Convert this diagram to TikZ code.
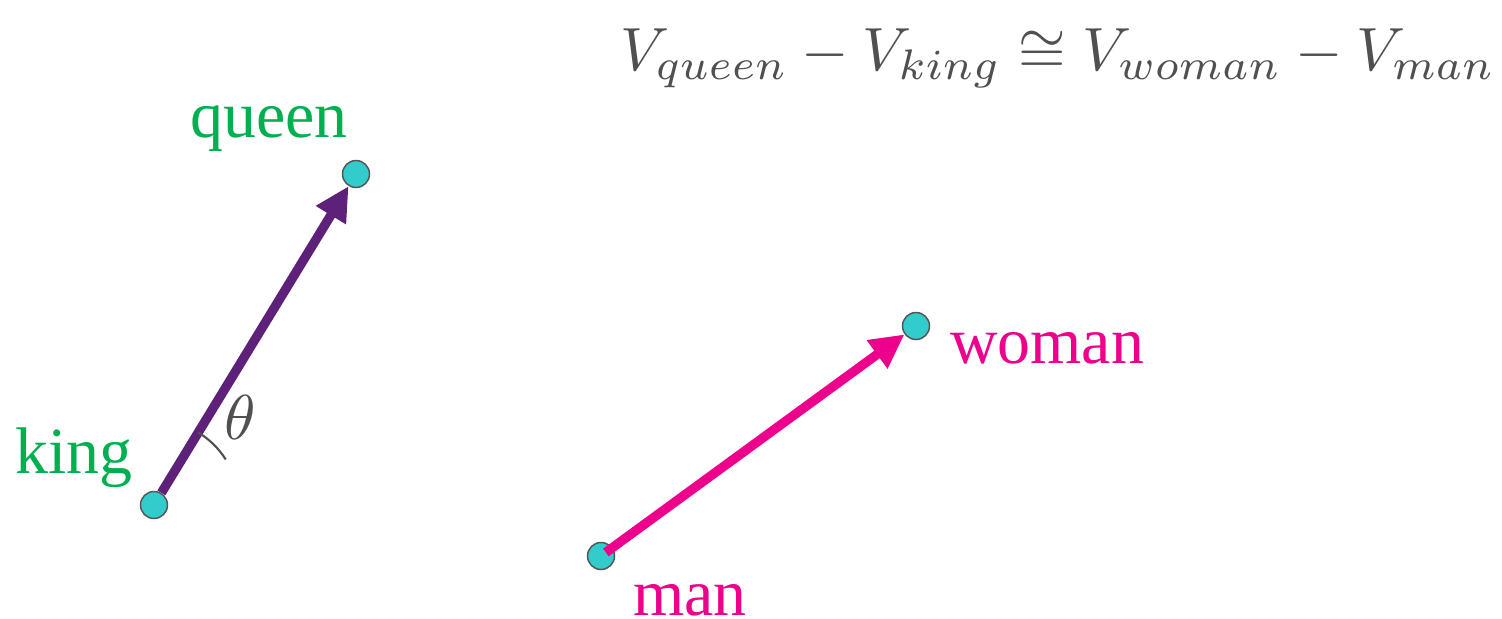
\documentclass[tikz,border=0pt]{standalone}
\usepackage{fontspec}
\setmainfont{Liberation Serif}
\usetikzlibrary{arrows.meta}
\definecolor{dotfill}{HTML}{33CCCC}
\definecolor{dotline}{HTML}{555555}
\definecolor{lblgreen}{HTML}{00B050}
\definecolor{lblpink}{HTML}{EC008C}
\definecolor{vecpurple}{HTML}{5E2179}
\definecolor{txtgray}{HTML}{505050}
\tikzset{
  pt/.style={circle, draw=dotline, fill=dotfill, line width=0.85pt, minimum size=0.54cm, inner sep=0pt},
  lbl/.style={font=\fontsize{37.5}{45}\selectfont, anchor=base, inner sep=0pt},
  vec/.style={line width=5.3pt, -{Triangle[length=0.68cm, width=0.66cm]}}
}
\begin{document}
\begin{tikzpicture}[x=0.02cm, y=-0.02cm]
\useasboundingbox (0,0) rectangle (1502,619);
% points
\node[pt] (king) at (154,505) {};
\node[pt] (queen) at (356,174) {};
\node[pt] (woman) at (916,326) {};
\node[pt] (man) at (601,556) {};
% vectors
\draw[vec, vecpurple] (king) -- (queen);
\draw[vec, lblpink, shorten <=0.12cm] (man.center) -- (woman);
% angle
\draw[txtgray, line width=1.2pt] ([shift={(58.6:1.7cm)}]king.center) arc[start angle=58.6, end angle=32.4, radius=1.7cm];
\node[txtgray, inner sep=0pt] (theta) at (240,417) {\resizebox{!}{0.88cm}{$\theta$}};
% labels
\node[lbl, lblgreen] (lqueen) at (269,137) {queen};
\node[lbl, lblgreen] (lking) at (74,473) {king};
\node[lbl, lblpink] (lwoman) at (1047,363) {woman};
\node[lbl, lblpink] (lman) at (690,615) {man};
% formula
\node[txtgray, anchor=base west, inner sep=0pt] (formula) at (620,70) {\resizebox{17.5cm}{!}{$V_{queen}-V_{king}\cong V_{woman}-V_{man}$}};
\end{tikzpicture}
\end{document}
